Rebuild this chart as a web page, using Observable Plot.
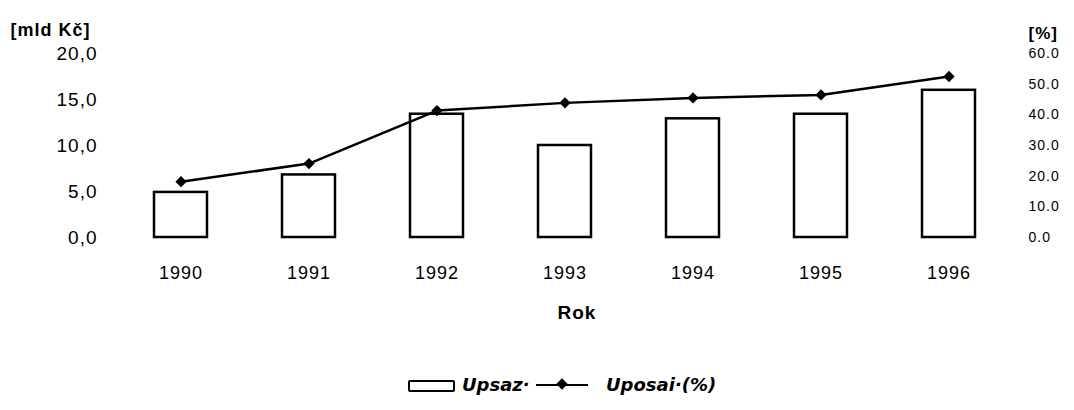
<!DOCTYPE html>
<html><head><meta charset="utf-8">
<script src="https://cdn.jsdelivr.net/npm/d3@7"></script>
<script src="https://cdn.jsdelivr.net/npm/@observablehq/plot@0.6"></script>
<style>
body{margin:0;background:#fff;font-family:"Liberation Sans",Arial,sans-serif;}
#wrap{position:relative;width:1074px;height:410px;overflow:hidden;}
#chart svg text{letter-spacing:1px;}
.lg{position:absolute;}
.sw-bar{left:408px;top:380px;width:43px;height:8px;border:2px solid #000;border-radius:2px;background:#fff;}
.t1{left:462px;top:374px;font:italic bold 18px "DejaVu Sans",sans-serif;}
.sw-line{left:536px;top:384px;width:52px;height:2px;background:#000;}
.sw-dia{left:558px;top:380px;width:8px;height:8px;background:#000;transform:rotate(45deg);}
.t2{left:606px;top:374px;font:italic bold 18px "DejaVu Sans",sans-serif;}
</style></head><body>
<div id="wrap">
<div id="chart"></div>
<div class="lg sw-bar"></div><div class="lg t1">Upsaz·</div>
<div class="lg sw-line"></div><div class="lg sw-dia"></div><div class="lg t2">Uposai·(%)</div>
</div>
<script>
const years = ["1990","1991","1992","1993","1994","1995","1996"];
const upsaz = [4.9, 6.8, 13.4, 10.0, 12.9, 13.4, 16.0];
const uposaiPct = [18.2, 24.1, 41.4, 43.9, 45.5, 46.5, 52.5];
const leftTicks = [0, 5, 10, 15, 20];
const rightTicks = [0, 10, 20, 30, 40, 50, 60];

const data = years.map((y, i) => ({year: y, upsaz: upsaz[i], pct: uposaiPct[i]}));
const ratio = 20 / 60;

const chart = Plot.plot({
  width: 1074, height: 350,
  marginLeft: 107, marginRight: 52, marginTop: 53, marginBottom: 113,
  style: {fontFamily: "Liberation Sans, Arial, sans-serif", background: "white", color: "black"},
  x: {type: "band", domain: years, paddingInner: 0.588, paddingOuter: 0.349, axis: null},
  y: {domain: [0, 20], axis: null},
  marks: [
    Plot.axisX({tickSize: 0, tickPadding: 29, fontSize: 18, label: null}),
    Plot.axisY(leftTicks, {anchor: "left", tickSize: 0, tickPadding: 10, fontSize: 19,
      tickFormat: d => d.toFixed(1).replace(".", ","), label: null}),
    Plot.axisY(rightTicks.map(v => v * ratio), {anchor: "right", tickSize: 0, tickPadding: 6, fontSize: 14,
      tickFormat: d => Math.round(d / ratio).toFixed(1), label: null}),
    Plot.barY(data, {x: "year", y: "upsaz", fill: "white", stroke: "black", strokeWidth: 2.5}),
    Plot.line(data, {x: "year", y: d => d.pct * ratio, stroke: "black", strokeWidth: 2.5}),
    Plot.dot(data, {x: "year", y: d => d.pct * ratio, symbol: "square", rotate: 45, r: 4.5, fill: "black"}),
    Plot.text(["[mld Kč]"], {text: d => d, frameAnchor: "top-left", textAnchor: "start", dx: -97, dy: -30, fontSize: 18, fontWeight: "bold"}),
    Plot.text(["[%]"], {text: d => d, frameAnchor: "top-right", textAnchor: "start", dx: 6, dy: -27, fontSize: 17, fontWeight: "bold"}),
    Plot.text(["Rok"], {text: d => d, frameAnchor: "bottom", dx: 12, dy: 81, fontSize: 19, fontWeight: "bold"})
  ]
});
document.getElementById("chart").appendChild(chart);
const yAxes = d3.select(chart).selectAll('g[aria-label="y-axis tick label"]');
yAxes.filter((d, i) => i === 0).style("letter-spacing", "2.5px");
d3.select(chart).selectAll('g[aria-label="text"]').filter((d, i) => i === 0).style("letter-spacing", "2px");
</script>
</body></html>
